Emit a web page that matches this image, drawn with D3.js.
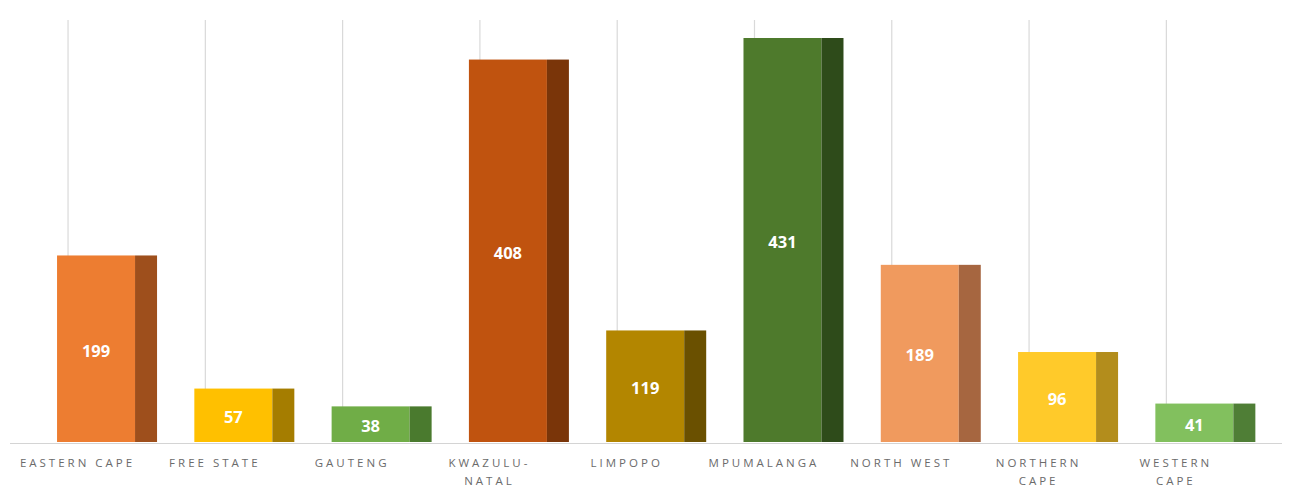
<!DOCTYPE html>
<html><head><meta charset="utf-8">
<script src="https://cdn.jsdelivr.net/npm/d3@7"></script>
<style>body{margin:0;background:#fff;}svg{display:block;}</style>
</head><body>
<svg id="chart" width="1290" height="490"></svg>
<script>
const categories = ["Eastern Cape","Free State","Gauteng","KwaZulu-Natal","Limpopo","Mpumalanga","North West","Northern Cape","Western Cape"];
const labelLines = [["EASTERN CAPE"],["FREE STATE"],["GAUTENG"],["KWAZULU-","NATAL"],["LIMPOPO"],["MPUMALANGA"],["NORTH WEST"],["NORTHERN","CAPE"],["WESTERN","CAPE"]];
const values = [199,57,38,408,119,431,189,96,41];
const frontColors = ["#ED7D31","#FFC000","#70AD47","#C0530F","#B38600","#4E7A2C","#F09A5E","#FFCA2A","#82C05E"];
const sideColors  = ["#9E4F1C","#A57D00","#4A7A2E","#7A3509","#6A5000","#2E4B1A","#A66640","#B38D1C","#4F7E36"];

const svg = d3.select("#chart");
const baseY = 442, topY = 38;
const x = d3.scaleBand().domain(categories).range([7.4, 1243]).padding(0);
const y = d3.scaleLinear().domain([0, 431]).range([baseY, topY]);
const step = x.step();

// baseline
svg.append("line").attr("x1", 10).attr("x2", 1282).attr("y1", baseY + 1.5).attr("y2", baseY + 1.5)
  .attr("stroke", "#d4d4d4").attr("stroke-width", 1.2);

// vertical gridlines
svg.selectAll("line.grid").data(categories).join("line").attr("class","grid")
  .attr("x1", d => x(d) + step/2 - 8).attr("x2", d => x(d) + step/2 - 8)
  .attr("y1", 20).attr("y2", baseY)
  .attr("stroke", "#d9d9d9").attr("stroke-width", 1.2);

const g = svg.selectAll("g.bar").data(categories).join("g").attr("class","bar");
const frontL = -19, frontR = 59, sideR = 81;
g.append("rect")
  .attr("x", d => x(d) + step/2 + frontL)
  .attr("width", frontR - frontL)
  .attr("y", (d,i) => y(values[i]))
  .attr("height", (d,i) => baseY - y(values[i]))
  .attr("fill", (d,i) => frontColors[i]);
g.append("rect")
  .attr("x", d => x(d) + step/2 + frontR)
  .attr("width", sideR - frontR)
  .attr("y", (d,i) => y(values[i]))
  .attr("height", (d,i) => baseY - y(values[i]))
  .attr("fill", (d,i) => sideColors[i]);
g.append("text")
  .attr("x", d => x(d) + step/2 + (frontL + frontR)/2)
  .attr("y", (d,i) => (y(values[i]) + baseY)/2 + 2)
  .attr("dy", "0.35em")
  .attr("text-anchor", "middle")
  .attr("font-family", "'Open Sans', sans-serif")
  .attr("font-weight", "bold")
  .attr("font-size", 16.5)
  .attr("fill", "#fff")
  .text((d,i) => values[i]);

// category labels
const lab = svg.selectAll("text.cat").data(categories).join("text").attr("class","cat")
  .attr("text-anchor","middle")
  .attr("font-family", "'Open Sans', sans-serif")
  .attr("font-size", 11.5)
  .attr("letter-spacing", "3px")
  .attr("fill", "#6b6b6b");
lab.each(function(d,i){
  const t = d3.select(this);
  labelLines[i].forEach((ln,j) => {
    t.append("tspan").attr("x", x(d) + step/2 + 1.5).attr("y", 467 + j*18).text(ln);
  });
});
</script>
</body></html>
